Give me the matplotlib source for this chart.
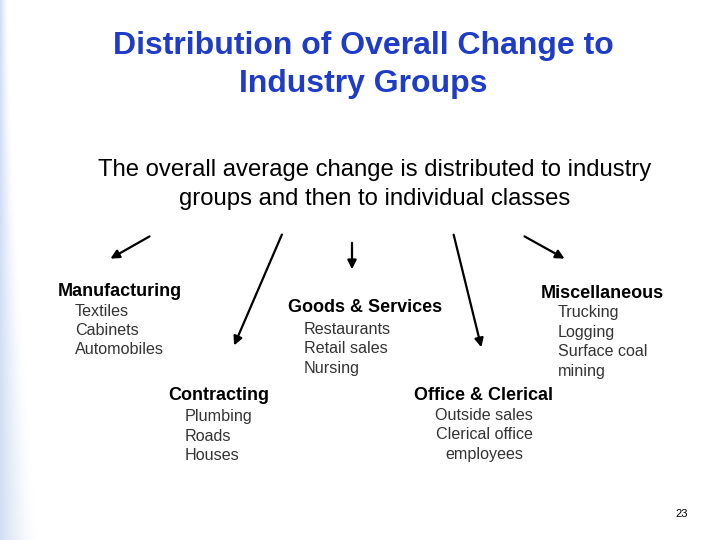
import numpy as np
import matplotlib
matplotlib.use("Agg")
import matplotlib.pyplot as plt

plt.rcParams['font.family'] = ['Liberation Sans', 'DejaVu Sans']

title_lines = ["Distribution of Overall Change to", "Industry Groups"]
subtitle_lines = ["The overall average change is distributed to industry",
                  "groups and then to individual classes"]

group_names = ["Manufacturing", "Goods & Services", "Miscellaneous",
               "Contracting", "Office & Clerical"]
group_items = [["Textiles", "Cabinets", "Automobiles"],
               ["Restaurants", "Retail sales", "Nursing"],
               ["Trucking", "Logging", "Surface coal", "mining"],
               ["Plumbing", "Roads", "Houses"],
               ["Outside sales", "Clerical office", "employees"]]
page_number = "23"

# layout (pixel coords): header x, header y, items x, item alignment
header_pos = [(58, 291), (288, 308), (541, 293), (168, 396), (414, 396)]
items_pos = [(75, 311, 'left'), (304, 329, 'left'), (558, 313, 'left'),
             (185, 417, 'left'), (484, 415, 'center')]
arrows = [((152, 235), (108, 260)), ((283, 232), (233, 348)),
          ((352, 240), (352, 272)), ((453, 232), (482, 350)),
          ((522, 235), (567, 260))]

fig = plt.figure(figsize=(7.2, 5.4), dpi=100)
ax = fig.add_axes([0, 0, 1, 1])
ax.set_xlim(0, 720)
ax.set_ylim(540, 0)
ax.axis('off')

# left-edge gradient stripe
yy, xx = np.mgrid[0:540, 0:60]
width = 8 + 30 * (yy / 540.0) ** 1.5
alpha = np.clip(1 - xx / width, 0, 1) ** 1.5
img = np.ones((540, 60, 4))
img[..., 0] = 0.80
img[..., 1] = 0.86
img[..., 2] = 0.95
img[..., 3] = alpha * 0.9
ax.imshow(img, extent=(0, 60, 540, 0), zorder=0, aspect='auto')

blue = '#1f3cc8'
ax.text(363, 46, title_lines[0], ha='center', va='center', fontsize=23,
        fontweight='bold', color=blue)
ax.text(363, 84, title_lines[1], ha='center', va='center', fontsize=23,
        fontweight='bold', color=blue)
ax.text(375, 170, subtitle_lines[0], ha='center', va='center', fontsize=17.2, color='black')
ax.text(375, 199, subtitle_lines[1], ha='center', va='center', fontsize=17.2, color='black')

for (s, e) in arrows:
    ax.annotate('', xy=e, xytext=s,
                arrowprops=dict(arrowstyle='-|>', color='black', lw=1.6,
                                mutation_scale=13))

for name, items, (hx, hy), (ix, iy, ha) in zip(group_names, group_items,
                                               header_pos, items_pos):
    ax.text(hx, hy, name, ha='left', va='center', fontsize=13,
            fontweight='bold', color='black')
    for k, it in enumerate(items):
        ax.text(ix, iy + k * 19.5, it, ha=ha, va='center', fontsize=11.6,
                color='#333333')

ax.text(688, 514, page_number, ha='right', va='center', fontsize=8, color='black')

fig.savefig('out.png', dpi=100)
